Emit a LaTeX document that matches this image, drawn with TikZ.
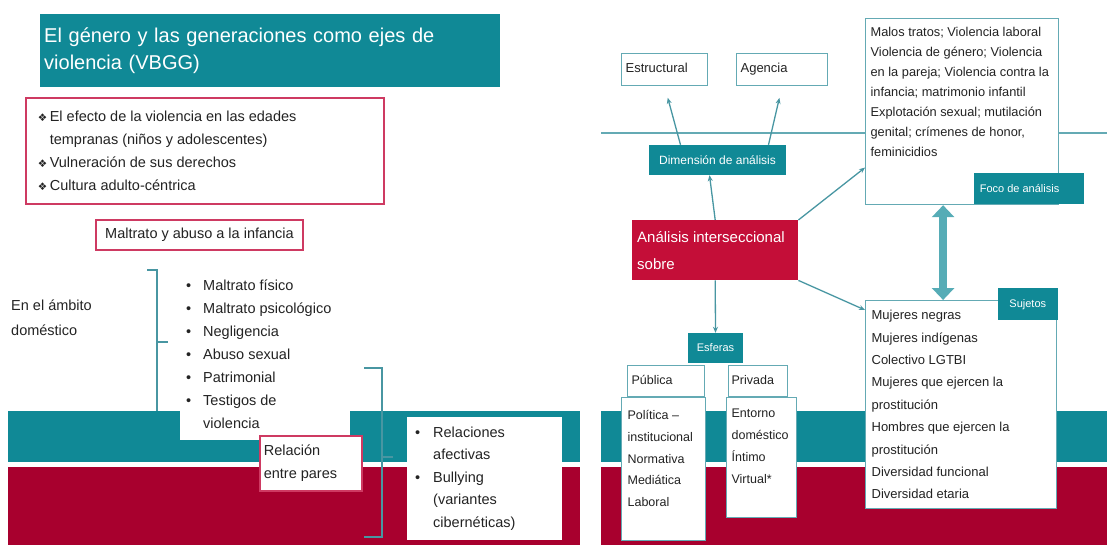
\documentclass[tikz,border=0pt]{standalone}
\usepackage{fontspec}
\setmainfont{Liberation Sans}
\newfontfamily\symfont{DejaVu Sans}
\usetikzlibrary{arrows.meta,positioning}
\definecolor{teal1}{RGB}{16,137,150}
\definecolor{crimson}{RGB}{168,0,46}
\definecolor{redbox}{RGB}{196,14,56}
\definecolor{pinkline}{RGB}{206,58,98}
\definecolor{tealline}{RGB}{100,170,180}
\definecolor{arrowcol}{RGB}{72,150,162}
\definecolor{fatcol}{RGB}{86,172,182}
\definecolor{txt}{RGB}{35,35,35}
\newcommand{\dia}{\makebox[12pt][l]{\symfont\fontsize{10.5}{10.5}\selectfont ❖}}
\newcommand{\bul}[1]{\makebox[#1][l]{•}}
\newcommand{\lbox}[2]{\parbox{#1}{\raggedright #2}}
\tikzset{%
	slide/.style    = {fill=teal1, text=white, align=left, inner ysep=0pt},
	pinkbox/.style  = {draw=pinkline, line width=1.6pt, fill=white, inner sep=0pt},
	panel/.style    = {draw=tealline, line width=1.2pt, fill=white, inner sep=0pt},
	tag/.style      = {fill=teal1, text=white, inner sep=0pt, font=\fontsize{11}{13}\selectfont},
	plain/.style    = {fill=white, inner sep=0pt},
	arrow/.style    = {draw=arrowcol, line width=1.3pt, -{Stealth[length=6pt,width=5pt]}},
	fat/.style      = {draw=fatcol, line width=8pt, {Triangle[width=22pt,length=12pt]}-{Triangle[width=22pt,length=12pt]}},
	brace/.style    = {draw=arrowcol, line width=1.3pt},
}

\begin{document}
\begin{tikzpicture}[x=1pt, y=-1pt, font=\fontsize{14.5}{23}\selectfont]
	\color{txt}
	\useasboundingbox (0,0) rectangle (1107,545);
	% bands
	\fill[teal1] (8,411) rectangle (580,462);
	\fill[crimson] (8,467) rectangle (580,545);
	\fill[teal1] (601,411) rectangle (1107,462);
	\fill[crimson] (601,467) rectangle (1107,545);
	\fill[white] (180,405) rectangle (350,440);
	
	% left slide
	\node[slide, anchor=north west, minimum width=460pt, minimum height=73pt, text width=452pt, inner xsep=4pt, font=\fontsize{20}{27}\selectfont] (title) at (40,14) {El género y las generaciones como ejes de\\violencia (VBGG)};
	\node[pinkbox, anchor=north west, minimum width=358pt, minimum height=106pt] (efectos) at (25,97) {\lbox{334pt}{\dia El efecto de la violencia en las edades\\\hspace*{12pt}tempranas (niños y adolescentes)\\\dia Vulneración de sus derechos\\\dia Cultura adulto-céntrica}};
	\node[pinkbox, minimum width=207pt, minimum height=30pt] (maltrato) at (199.5,235) {Maltrato y abuso a la infancia};
	\node[anchor=west, align=left, inner sep=0pt, font=\fontsize{14.5}{25}\selectfont] (ambito) at (11,317.5) {En el ámbito\\doméstico};
	\node[plain, anchor=west, align=left] (formas) at (186,354) {\bul{17pt}Maltrato físico\\\bul{17pt}Maltrato psicológico\\\bul{17pt}Negligencia\\\bul{17pt}Abuso sexual\\\bul{17pt}Patrimonial\\\bul{17pt}Testigos de\\\hspace*{17pt}violencia};
	\node[pinkbox, anchor=north west, minimum width=102pt, minimum height=55pt] (pares) at (259,435) {\lbox{94pt}{Relación\\entre pares}};
	\node[plain, anchor=north west, minimum width=155pt, minimum height=123pt, font=\fontsize{14.5}{22.5}\selectfont] (afectivas) at (407,417) {\lbox{139pt}{\bul{18pt}Relaciones\\\hspace*{18pt}afectivas\\\bul{18pt}Bullying\\\hspace*{18pt}(variantes\\\hspace*{18pt}cibernéticas)}};
	
	\draw[brace] (147,270) -| (157,411);
	\draw[brace] (157,342) -- (168,342);
	\draw[brace] (364,368) -| (382,537) -- (364,537);
	\draw[brace] (382,457) -- (393,457);
	
	% right slide
	\draw[tealline, line width=1.5pt] (601,133) -- (1107,133);
	\node[panel, anchor=north west, minimum width=86pt, minimum height=32pt, text height=9.5pt, text depth=3pt, font=\fontsize{13}{15}\selectfont] (estr) at (621,53) {\makebox[78pt][l]{Estructural}};
	\node[panel, anchor=north west, minimum width=91pt, minimum height=32pt, text height=9.5pt, text depth=3pt, font=\fontsize{13}{15}\selectfont] (agencia) at (736,53) {\makebox[83pt][l]{Agencia}};
	\node[tag, minimum width=137pt, minimum height=30pt, font=\fontsize{12}{14}\selectfont] (dim) at (717.5,160) {Dimensión de análisis};
	\node[fill=redbox, text=white, anchor=north west, minimum width=166pt, minimum height=60pt, inner sep=0pt, font=\fontsize{15}{27}\selectfont] (ana) at (632,220) {\lbox{156pt}{Análisis interseccional\\sobre}};
	\node[panel, anchor=north west, minimum width=193pt, minimum height=186pt, font=\fontsize{12.8}{20}\selectfont] (tipos) at (865,18) {\parbox[c][168pt][t]{183pt}{\raggedright Malos tratos; Violencia laboral\\Violencia de género; Violencia\\en la pareja; Violencia contra la\\infancia; matrimonio infantil\\Explotación sexual; mutilación\\genital; crímenes de honor,\\feminicidios}};
	\node[tag, anchor=south east, minimum width=110pt, minimum height=31pt] (foco) at (1084,204) {\makebox[98pt][l]{Foco de análisis}};
	\node[panel, anchor=north west, minimum width=191pt, minimum height=208pt, font=\fontsize{13}{22.4}\selectfont] (suj) at (865,300) {\lbox{179pt}{Mujeres negras\\Mujeres indígenas\\Colectivo LGTBI\\Mujeres que ejercen la\\prostitución\\Hombres que ejercen la\\prostitución\\Diversidad funcional\\Diversidad etaria}};
	\node[tag, anchor=north east, minimum width=60pt, minimum height=32pt] (sujtag) at (1058,288) {Sujetos};
	\node[tag, minimum width=55pt, minimum height=30pt] (esf) at (715.5,348) {Esferas};
	\node[panel, anchor=north west, minimum width=77pt, minimum height=31pt, text height=9pt, text depth=3pt, font=\fontsize{12.5}{15}\selectfont] (pub) at (627,365) {\makebox[69pt][l]{Pública}};
	\node[panel, anchor=north west, minimum width=59pt, minimum height=31pt, text height=9pt, text depth=3pt, font=\fontsize{12.5}{15}\selectfont] (priv) at (728,365) {\makebox[53pt][l]{Privada}};
	\node[panel, anchor=north west, minimum width=84pt, minimum height=143pt, font=\fontsize{12.5}{21.7}\selectfont] (pol) at (621,397) {\parbox[c][117pt][t]{72pt}{\raggedright Política –\\institucional\\Normativa\\Mediática\\Laboral}};
	\node[panel, anchor=north west, minimum width=70pt, minimum height=120pt, font=\fontsize{12.5}{22}\selectfont] (ent) at (726,397) {\parbox[c][98pt][t]{60pt}{\raggedright Entorno\\doméstico\\Íntimo\\Virtual*}};
	
	\draw[arrow] (ana.north) -- ([xshift=-8pt]dim.south);
	\draw[arrow, shorten >=12pt] ([xshift=-37pt]dim.north) -- (estr.south);
	\draw[arrow, shorten >=12pt] ([xshift=51pt]dim.north) -- (agencia.south);
	\draw[arrow] (ana.north east) -- ([yshift=-56pt]tipos.west);
	\draw[arrow] (ana.south east) -- ([yshift=-10pt]suj.north west);
	\draw[arrow] (ana.south) -- (esf.north);
	\draw[fat] ([xshift=-19pt]tipos.south) -- ([xshift=-19pt]tipos.south |- suj.north);
\end{tikzpicture}
\end{document}
